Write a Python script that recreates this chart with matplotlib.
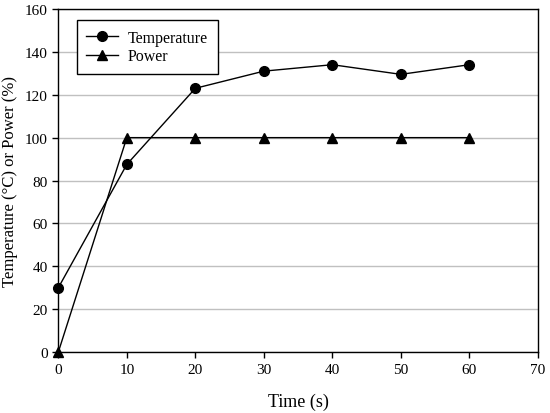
import matplotlib
matplotlib.use("Agg")
import matplotlib.pyplot as plt

time_s = [0, 10, 20, 30, 40, 50, 60]
temperature = [30, 87.5, 123, 131, 134, 129.5, 134]
power = [0, 100, 100, 100, 100, 100, 100]

plt.rcParams["font.family"] = ["Liberation Serif", "DejaVu Serif"]
plt.rcParams["font.size"] = 11

fig, ax = plt.subplots(figsize=(5.5, 4.14), dpi=100)
fig.subplots_adjust(left=0.106, right=0.978, top=0.976, bottom=0.147)

ax.plot(time_s, temperature, color="black", marker="o", markersize=7, linewidth=1,
        label="Temperature", clip_on=False, zorder=3)
ax.plot(time_s, power, color="black", marker="^", markersize=7, linewidth=1,
        label="Power", clip_on=False, zorder=3)

ax.set_xlim(0, 70)
ax.set_ylim(0, 160)
ax.set_xticks(range(0, 71, 10))
ax.set_yticks(range(0, 161, 20))
ax.yaxis.grid(True, color="#c0c0c0", linewidth=1)
ax.set_axisbelow(True)
for s in ax.spines.values():
    s.set_linewidth(1)
ax.tick_params(direction="out", length=4, width=1, labelsize=11)

ax.set_xlabel("Time (s)", fontsize=13, labelpad=12)
ax.set_ylabel("Temperature (°C) or Power (%)", fontsize=12, labelpad=5)

leg = ax.legend(loc="upper left", bbox_to_anchor=(0.022, 0.99), fancybox=False,
                edgecolor="black", framealpha=1, fontsize=11.5, handlelength=2.0,
                borderpad=0.6, labelspacing=0.15, handletextpad=0.6)
leg.get_frame().set_linewidth(1)

plt.savefig("out.png")
